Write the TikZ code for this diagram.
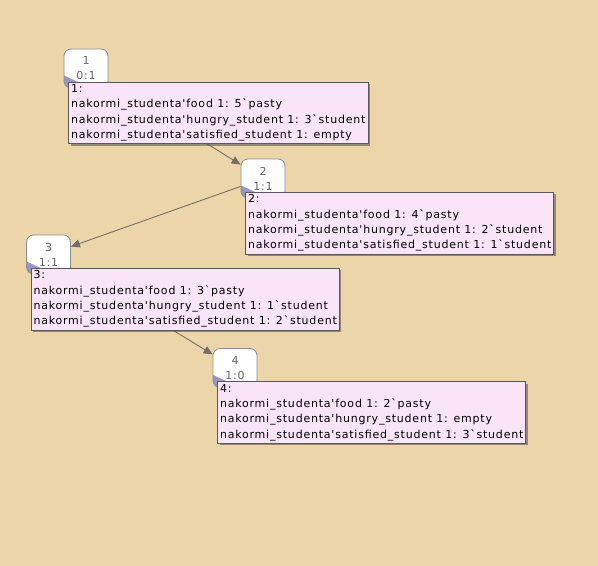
\documentclass[tikz,border=0pt]{standalone}
\usepackage{fontspec}
\setmainfont{DejaVu Sans}[Ligatures=TeXOff, LetterSpace=7.2]
\usetikzlibrary{positioning,arrows.meta,shadows}
\definecolor{bgtan}{RGB}{237,213,170}
\definecolor{infopink}{RGB}{250,228,248}
\definecolor{cornerblue}{RGB}{150,150,200}
\definecolor{edgegray}{RGB}{115,110,105}
\definecolor{boxgray}{RGB}{140,140,140}
\tikzset{
    state/.style={
        rectangle,
        rounded corners=7bp,
        draw=boxgray, line width=0.8bp,
        fill=white,
        minimum width=44bp,
        minimum height=39bp,
        align=center,
        text=black!60,
        font=\fontsize{11bp}{15bp}\selectfont,
        path picture={
            \fill[cornerblue, sharp corners] ([yshift=0.5bp]path picture bounding box.south west)
                -- ++(0,12bp) -- ++(26bp,-12bp) -- cycle;
        }
    },
    info/.style={
        rectangle,
        draw=black!65, line width=0.8bp,
        fill=infopink,
        align=left,
        inner xsep=2.5bp,
        inner ysep=2.5bp,
        font=\fontsize{11bp}{15.4bp}\selectfont,
        drop shadow={shadow xshift=2bp, shadow yshift=-2bp, opacity=0.55, fill=black!70}
    },
    edge/.style={draw=edgegray, line width=0.9bp, -{Triangle[length=9bp,width=8bp]}}
}
\begin{document}
\begin{tikzpicture}[x=1bp, y=-1bp, node distance=33bp and 4.5bp]
    \fill[bgtan] (0,0) rectangle (598,566);

    \node[state] (s1) at (86,68.5) {1\\0:1};
    \node[state] (s2) at (263,178.5) {2\\1:1};
    \node[state] (s3) at (48.5,254.5) {3\\1:1};
    \node[state] (s4) at (235,368) {4\\1:0};

    \draw[edge] (s1) -- (s2);
    \draw[edge] (s2) -- (s3);
    \draw[edge] (s3) -- (s4);

    \node[info, below right=of s1.north west] (i1) {1:\\
        nakormi\_studenta'food 1: 5`pasty\\
        nakormi\_studenta'hungry\_student 1: 3`student\\
        nakormi\_studenta'satisfied\_student 1: empty};
    \node[info, below right=of s2.north west] (i2) {2:\\
        nakormi\_studenta'food 1: 4`pasty\\
        nakormi\_studenta'hungry\_student 1: 2`student\\
        nakormi\_studenta'satisfied\_student 1: 1`student};
    \node[info, below right=of s3.north west] (i3) {3:\\
        nakormi\_studenta'food 1: 3`pasty\\
        nakormi\_studenta'hungry\_student 1: 1`student\\
        nakormi\_studenta'satisfied\_student 1: 2`student};
    \node[info, below right=of s4.north west] (i4) {4:\\
        nakormi\_studenta'food 1: 2`pasty\\
        nakormi\_studenta'hungry\_student 1: empty\\
        nakormi\_studenta'satisfied\_student 1: 3`student};
\end{tikzpicture}
\end{document}
